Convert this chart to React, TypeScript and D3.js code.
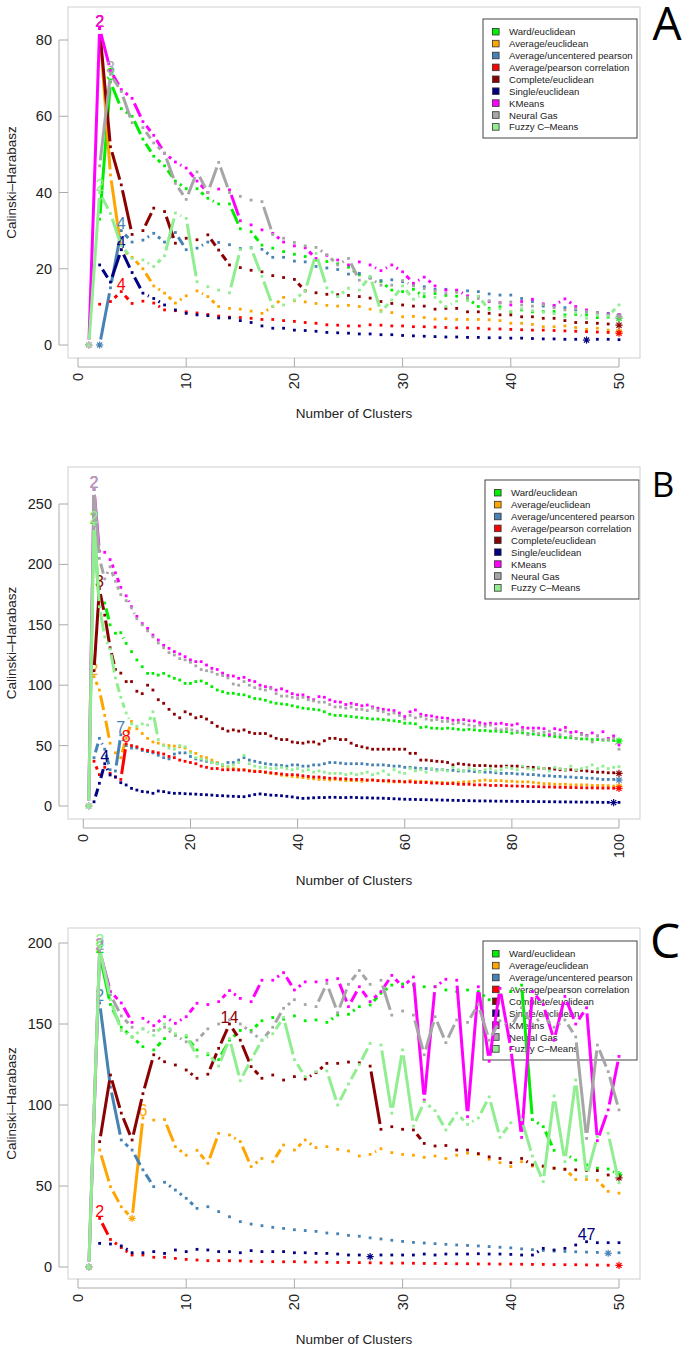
import * as d3 from "d3";

type Series = (number | null)[];

const methods = [
  "Ward/euclidean",
  "Average/euclidean",
  "Average/uncentered pearson",
  "Average/pearson correlation",
  "Complete/euclidean",
  "Single/euclidean",
  "KMeans",
  "Neural Gas",
  "Fuzzy C–Means",
];
const colors = ["#00EE00", "#FFA500", "#4682B4", "#FF0000", "#8B0000", "#000080", "#FF00FF", "#A6A6A6", "#90EE90"];

// ---- panel A (k = 1..50)
const clustersA = d3.range(1, 51);
const wardA: Series = [null, 33, 69, 62, 60, 54, 49.5, 47, 43, 41,
  41, 38.5, 37, 37, 30.5, 29.7, 26.2, 25.4, 24.5, 23.8,
  23.2, 22.3, 21.9, 21.3, 20.4, 18.4, 17.7, 16.6, 14.4, 14,
  14.6, 12.7, 13.5, 13, 12.8, 12.2, 10.1, 9.6, 10, 8.7,
  9.2, 8.7, 8.8, 8.8, 7.9, 8, 7.9, 7.2, 7.3, 7.0];
const avgEucA: Series = [null, 83, 44.6, 25, 23, 20, 15.5, 13.6, 11, 12.9,
  14.2, 12.7, 10.1, 9.6, 9.4, 8.9, 8.3, 10.1, 12.5, 11.6,
  11.3, 10.9, 10.4, 10.2, 10.4, 10.1, 9.4, 9.0, 8.5, 7.4,
  7.5, 7.2, 6.8, 6.9, 6.7, 6.7, 6.7, 6.6, 6.4, 5.7,
  5.7, 5.4, 4.8, 4.8, 5.0, 4.6, 4.1, 4.4, 3.9, 3.5];
const avgUncA: Series = [null, 0, 15, 30, 27, 27.5, 29.3, 27, 29.5, 25,
  25.4, 27, 26.9, 26.3, 25.3, 25.5, 25.1, 23, 23, 22,
  21.8, 20.6, 20.2, 19.8, 18.6, 18.8, 17.6, 16.9, 17.1, 16.6,
  15.7, 15.3, 14.6, 14.6, 14.3, 14.2, 14.0, 13.4, 13.1, 13.1,
  12.2, 11.4, 10.2, 10.2, 9.8, 9.2, 8.7, 8.5, 8.3, 8.0];
const avgPearA: Series = [null, 10.7, 11.4, 14, 10.9, 11.5, 11, 9.2, 9, 8.7,
  8.4, 8, 7.6, 7.3, 7.2, 7.0, 6.7, 6.7, 6.4, 6.2,
  5.9, 5.7, 5.3, 5.2, 5.0, 5.0, 5.3, 5.2, 5.0, 5.0,
  4.8, 4.8, 4.7, 4.6, 4.5, 4.5, 4.4, 4.2, 4.2, 4.1,
  4.0, 3.9, 3.9, 3.8, 3.7, 3.6, 3.5, 3.4, 3.3, 3.1];
const complA: Series = [null, 83, 52, 42, 29, 30, 35.9, 35, 26.7, 28,
  27.6, 28.9, 24.9, 21, 20.3, 19.6, 19.2, 18.2, 17.7, 17.2,
  14.2, 13.7, 13.3, 13.2, 13, 12.7, 12.3, 11.4, 10.9, 10.5,
  10.2, 10.2, 9.4, 9.6, 9.6, 8.7, 8.7, 8.3, 7.9, 7.9,
  7.4, 7.4, 7.0, 7.0, 6.4, 5.9, 5.9, 5.7, 5.5, 5.2];
const singleA: Series = [null, 21, 16.5, 25, 19, 13.6, 12.2, 10.5, 9.2, 8.3,
  7.9, 7.7, 7.1, 7.1, 6.4, 5.9, 5.0, 4.4, 4.4, 3.9,
  3.8, 3.6, 3.3, 3.2, 3.1, 2.9, 2.9, 2.7, 2.7, 2.5,
  2.4, 2.3, 2.2, 2.1, 2.1, 2.0, 2.0, 1.9, 1.9, 1.8,
  1.8, 1.7, 1.6, 1.6, 1.5, 1.5, 1.3, 1.5, 1.5, 1.4];
const kmeansA: Series = [0, 83, 72, 67, 64.7, 58.6, 55, 50.3, 48, 46.4,
  43, 40, 40.9, 40.7, 32.6, 31.5, 30.2, 29.3, 27, 26,
  25.5, 22.7, 23.5, 22.3, 21, 21.8, 21, 19.5, 21, 19.2,
  16.2, 17.8, 15.5, 14.4, 14.4, 12.9, 12.7, 11.4, 11.1, 10.5,
  11.4, 12, 10.8, 10.4, 12.1, 10.1, 9.2, 8.5, 8.1, 8.0];
const ngasA: Series = [null, 47, 71, 66.5, 58.3, 57, 53, 50.3, 42.4, 38.2,
  45.4, 40, 47.9, 40, 39, 38, 37.6, 29, 28, 26.9,
  26, 25.6, 23.7, 21, 22.7, 17, 17.5, 15.7, 15.7, 16.9,
  15.5, 14.8, 14.2, 13.5, 13.8, 12.5, 12.2, 11.6, 11, 11.3,
  10.5, 10.2, 10.6, 9.8, 9.2, 9.5, 8.8, 8.5, 7.9, 7.4];
const fuzzyA: Series = [0, 40, 34.5, 26, 22.7, 22.3, 20.6, 23.4, 34.6, 33.2,
  16.6, 15.3, 14.4, 13.7, 25, 25.4, 18, 10.2, 10.5, 11.8,
  14.2, 24, 15, 12.7, 14.9, 14.4, 18, 8.7, 11.8, 15.5,
  12, 13.5, 12.5, 10.1, 11.5, 11.6, 12.8, 9.2, 9.5, 8.8,
  9.5, 9.0, 8.6, 8.2, 7.4, 8.4, 7.0, 7.8, 7.6, 10.5];

// ---- panel B (k = 1..100)
const clustersB = d3.range(1, 101);
const wardB: Series = [null, 232, 165, 168, 150, 143, 143.5, 134.6, 127.8, 120.9,
  115.3, 109.8, 109.8, 108.4, 109.8, 107.6, 105.7, 104.3, 101.5, 101.5,
  103, 103.5, 101.5, 98.8, 96, 94.6, 93.3, 93.3, 92.4, 92,
  90.5, 89, 88.5, 87.5, 86, 85, 84.5, 84, 83, 82,
  81, 80.5, 80, 79.5, 78, 76, 75, 75, 74.5, 74,
  73.5, 73, 72.5, 72, 72, 71.5, 71, 70.5, 70, 68.5,
  68.5, 68, 65, 65.5, 64.5, 64.3, 64, 64.5, 64, 63.5,
  63, 63.5, 63, 62.5, 62.5, 62, 62, 61.5, 61.5, 60.2,
  61, 60.5, 60, 59.5, 59, 58.5, 58, 57.5, 57, 56.6,
  56.5, 56, 55.5, 55.5, 55, 55, 54.5, 54.5, 54.2, 53.8];
const avgEucB: Series = [null, 107, 96, 75, 52, 44, 40, 56, 70, 64,
  60, 56, 53, 52, 50.5, 50, 49.6, 49, 48, 45,
  43.6, 41, 40, 38, 36, 33, 32, 31, 30.4, 30,
  29.5, 29, 28.5, 28, 27, 26.5, 25.5, 25, 24.5, 24,
  23.5, 23, 22.5, 22, 22, 21.5, 22, 21.5, 21, 21,
  21, 20.5, 21, 21.5, 21, 20.5, 20, 20, 20, 20,
  21, 20.5, 20.5, 20, 20, 19.5, 19.5, 19, 19.5, 19.5,
  20, 20, 20.5, 21, 21.5, 21, 21, 21, 20.5, 20.5,
  20, 20, 20, 19.5, 19, 18.5, 18.5, 18, 18, 18,
  17.5, 17.5, 17.5, 17.5, 17, 17, 17, 16.8, 16.5, 16.2];
const avgUncB: Series = [null, 40, 56, 47, 30, 29, 59, 50, 48, 48,
  46, 45, 44, 42, 40, 39, 43, 44, 44, 41,
  39, 38, 37, 36, 35, 34, 36, 36, 38, 40,
  38, 37, 36, 35, 34.5, 34, 33.5, 33, 34, 34,
  33, 33, 34, 34, 35, 36, 35.9, 35.5, 35, 35,
  35, 35, 34.5, 34, 34, 34, 33.5, 33, 33, 32,
  32, 31.5, 31, 31, 30.5, 30, 30, 29.5, 29.5, 29,
  29, 29, 28.5, 28.5, 28, 28, 27.5, 27, 27, 27,
  26.5, 26.5, 26, 26, 25.5, 25, 25, 24.5, 24.5, 24,
  24, 23.5, 23.5, 23, 23, 22.5, 22, 22, 22, 21.5];
const avgPearB: Series = [null, 37, 26, 32, 27, 24, 22, 51.5, 50, 49,
  47, 46, 45, 44, 43, 41, 40, 38, 37, 36,
  35, 33, 32, 31, 31, 30, 30, 30, 29.8, 29.8,
  29, 28.5, 28.5, 28, 27.5, 27, 26.5, 26, 26, 25.7,
  25, 24.5, 24, 24, 23.5, 23, 23, 22.5, 22.5, 22,
  22, 22, 21.5, 21.5, 21, 21, 21, 20.5, 20.5, 20,
  20, 19.5, 19.5, 19.5, 19, 19, 18.5, 18.5, 18.5, 18,
  18, 18, 17.5, 17.5, 17.5, 17, 17, 17, 16.8, 16.6,
  16.5, 16.4, 16.2, 16, 16, 15.8, 15.8, 15.6, 15.5, 15.4,
  15.3, 15.2, 15.1, 15, 15, 14.9, 14.8, 14.8, 14.7, 14.6];
const complB: Series = [null, 112, 180, 158, 131, 113, 110, 103, 103, 95,
  93, 100, 96, 88, 85, 80, 76, 73, 78, 76,
  73, 74, 72, 69, 66, 64, 62, 63, 62, 63,
  61, 60, 60, 60, 58, 56, 55, 55, 53, 52.4,
  52, 53, 53, 51.3, 54, 56, 56, 55, 55, 52,
  50, 49, 48, 47, 47, 47, 47, 47, 47, 47,
  43.6, 43.6, 38, 38, 37.5, 37, 36.7, 36, 34, 35,
  34.5, 34, 33.5, 33.5, 33.5, 33, 33, 33, 33, 33,
  33, 32.5, 32, 32, 31.5, 31, 31, 30.5, 30, 29.8,
  30, 29.5, 29.5, 29, 28.4, 28, 28, 27.5, 27.5, 27];
const singleB: Series = [null, 3.5, 18.8, 35, 25.7, 24, 19.3, 17.4, 14.6, 13.2,
  12, 11.5, 10.5, 12.4, 11.9, 11, 10.5, 10.5, 10.2, 10,
  9.8, 9.5, 9.3, 9, 8.6, 8.5, 8.2, 8, 7.8, 7.7,
  8.5, 9.5, 10, 9.5, 9, 8.8, 8.5, 8, 7.5, 6.8,
  6.3, 6.5, 6.8, 7, 7, 7.2, 7.2, 7, 7, 7.2,
  7, 6.8, 6.8, 6.6, 6.5, 6.4, 6.2, 6, 5.8, 5.6,
  5.5, 5.4, 5.3, 5.2, 5.1, 5, 4.9, 4.8, 4.7, 4.6,
  4.5, 4.4, 4.3, 4.2, 4.2, 4.1, 4.0, 4.0, 3.9, 3.9,
  3.8, 3.8, 3.7, 3.7, 3.6, 3.6, 3.5, 3.5, 3.4, 3.4,
  3.3, 3.3, 3.2, 3.2, 3.1, 3.1, 3.0, 3.0, 2.8, 3.0];
const kmeansB: Series = [0, 262, 211, 210, 204, 193, 181, 174, 165, 157,
  151, 147, 141.5, 137.4, 133, 130.5, 127.8, 125.8, 123.6, 121,
  119.5, 119.5, 116.7, 114, 113, 110, 108, 107.6, 105.7, 106.5,
  104, 103, 100, 98.8, 98, 96, 97, 95, 93, 91.9,
  92, 90, 88, 90.5, 90, 87.8, 86.4, 86, 84, 85,
  84, 83, 83.6, 82, 81, 80, 79.5, 79, 77, 74,
  78, 79.5, 76, 75, 74.5, 73.5, 73, 72.6, 71, 71,
  71.5, 70.6, 70.4, 69, 68, 68.5, 68, 68.5, 67.5, 67,
  68, 65, 64.5, 64.5, 64.5, 64, 59, 64, 63, 65,
  61, 61.5, 60, 58.5, 60.5, 58, 61.5, 56, 58, 50.5];
const ngasB: Series = [0, 262, 205, 188, 198, 186, 175, 170, 164, 155,
  150, 145, 140, 135, 131, 127, 125, 122, 121, 119,
  116, 113, 112, 111, 109, 108, 106, 101, 100, 103,
  100, 98, 97, 96, 97, 93, 91, 91, 90, 89,
  90, 88, 87, 86, 86, 84, 82, 82, 81, 82,
  80, 80, 79, 81, 79, 78, 76, 77, 75, 72,
  75, 73, 74, 72, 71, 71.5, 70, 70, 68, 69,
  68, 67, 66, 67, 66, 67, 64, 63, 64, 63,
  62, 63, 59, 62, 60, 61, 62, 60, 59, 62,
  58, 56, 59, 58, 53, 58, 55, 55, 56, 47];
const fuzzyB: Series = [0, 233, 165, 140, 130, 106, 90, 77, 68, 66,
  68, 67, 78, 55, 50, 48, 47, 50, 49, 44,
  40, 39, 38, 36, 35, 34, 33, 34, 36, 42,
  35, 33, 32, 32, 31, 31, 32, 31, 30, 31,
  29, 30, 28, 29, 28, 27, 27, 27, 26, 27,
  26, 27, 28, 26, 27, 29, 26, 30, 28, 27,
  31, 29, 30, 28, 31, 29, 30, 29, 32, 30,
  29, 31, 30, 28, 30, 31, 29, 30, 32, 31,
  30, 33, 31, 30, 32, 31, 29, 32, 31, 30,
  33, 30, 31, 32, 34, 31, 33, 31, 32, 32.6];

// ---- panel C (k = 1..50)
const clustersC = d3.range(1, 51);
const wardC: Series = [null, 193, 162, 148, 142, 136, 134, 141, 143, 142,
  134, 131, 128, 140, 146, 146, 152, 154, 153, 155,
  152, 152.5, 151, 155.5, 156, 160.7, 161.7, 169, 174, 174.7,
  174, 173, 173, 171, 170, 171, 170, 165, 168, 170,
  174, 91, 86.6, 72, 70, 66, 63, 61, 60.5, 57];
const avgEucC: Series = [null, 72.2, 49.6, 37.2, 30, 92, 90.7, 91, 74.3, 69,
  72, 64, 82.5, 81.5, 77.4, 62, 67, 65, 75.3, 72.2,
  78.4, 73.7, 74.3, 72.6, 71.6, 68.5, 69.5, 73, 70.6, 69.5,
  69, 67.7, 68.5, 67, 69, 70.2, 69.5, 66.5, 64.4, 62,
  65, 62.3, 62, 61, 60.5, 54, 54, 53.5, 46.7, 45.6];
const avgUncC: Series = [null, 163, 111, 78.4, 72.2, 60, 49.6, 52.3, 47.5, 42.4,
  36.2, 37.2, 34.2, 31, 28, 26.5, 25.5, 24.5, 23.8, 23,
  22.5, 22, 21, 20.5, 19.5, 19, 18, 17.3, 16.5, 15.8,
  15.2, 14.8, 14.4, 14, 13.6, 13.3, 13, 12.6, 12.2, 11.8,
  11.2, 10.7, 10.2, 9.8, 9.6, 9.4, 9.2, 9.0, 8.5, 8.8];
const avgPearC: Series = [null, 30, 17, 12, 7.4, 7.4, 6, 6, 5.3, 4.7,
  4.3, 3.9, 3.9, 3.9, 3.8, 3.5, 3.3, 3.3, 3.2, 3.3,
  3.1, 3, 2.9, 2.8, 2.8, 2.7, 2.6, 2.5, 2.4, 2.4,
  2.3, 2.2, 2.2, 2.1, 2.0, 2.0, 1.9, 1.9, 1.8, 1.8,
  1.7, 1.6, 1.6, 1.5, 1.4, 1.4, 1.3, 1.2, 1.1, 1.0];
const complC: Series = [null, 77.4, 118.5, 95, 78.4, 107, 131, 126.7, 124.7, 121.6,
  116.5, 119, 135, 150, 140, 123.7, 116.5, 118.5, 115.4, 117.5,
  116, 120, 125.7, 125.7, 126.5, 126, 124, 85, 86.6, 85,
  84.6, 76.3, 74.7, 75, 72.2, 72.2, 70, 68, 67, 64.4,
  67, 63, 62.3, 61, 60.3, 60, 59.6, 59.5, 56.8, 55];
const singleC: Series = [null, 14.6, 14.2, 13, 8.8, 8.8, 9.5, 8.4, 10.5, 9.5,
  10.9, 10.5, 9.5, 9.5, 8.8, 10.1, 9.5, 9.5, 9.5, 8.8,
  8.8, 8.4, 8.4, 8, 7.4, 7.4, 6.4, 7.4, 7.4, 7.4,
  7.4, 8, 7.4, 8, 8, 8, 8.2, 8, 8, 7.8,
  7.4, 7.4, 11.5, 10.5, 11.5, 13.6, 15.6, 15, 15, 15];
const kmeansC: Series = [0, 195, 170, 163, 151, 153.5, 149, 154.5, 150.4, 154.5,
  162.8, 162, 163.8, 170.6, 165.8, 163.8, 177, 177, 181.7, 171,
  176, 176, 177, 178, 160.7, 173, 163.8, 170, 180, 173,
  179, 103, 173, 177.6, 177, 92.8, 173, 127, 172, 135,
  80, 170, 162, 140, 167, 150, 160, 78, 97, 130];
const ngasC: Series = [0, 195, 168, 155, 148, 147, 146, 148, 143, 139,
  140, 147, 150, 152.5, 150, 145, 140, 148, 159.7, 165,
  162, 160.7, 175, 157, 174.5, 183, 174.5, 177, 155.5, 158,
  155.5, 131, 154.5, 138.5, 152.5, 151, 162, 140, 152, 148,
  160, 150, 155, 148, 152.5, 142, 79.4, 137, 120.6, 97];
const fuzzyC: Series = [0, 197, 165, 146, 142, 147, 143, 150, 144, 143,
  130, 132, 124, 141, 115, 128, 140, 144, 154, 128,
  117.5, 120.6, 121, 100, 113, 125, 138, 137, 95, 134,
  87, 102, 96.5, 84.6, 95, 88, 92, 105, 80, 89,
  91, 68.5, 52.7, 105.6, 65, 115.4, 55.8, 80.5, 82.5, 52];

const panels = [
  {
    letter: "A", letterSize: 46, letterX: 667, letterY: 40,
    clusters: clustersA,
    series: [wardA, avgEucA, avgUncA, avgPearA, complA, singleA, kmeansA, ngasA, fuzzyA],
    xTicks: [0, 10, 20, 30, 40, 50], xRange: [78, 619],
    yTicks: [0, 20, 40, 60, 80], yRange: [345, 40],
    box: [68, 640, 7, 358], axisY: 367, xlabY: 413,
    legend: [483, 637, 19],
  },
  {
    letter: "B", letterSize: 35, letterX: 663, letterY: 497,
    clusters: clustersB,
    series: [wardB, avgEucB, avgUncB, avgPearB, complB, singleB, kmeansB, ngasB, fuzzyB],
    xTicks: [0, 20, 40, 60, 80, 100], xRange: [83.3, 619],
    yTicks: [0, 50, 100, 150, 200, 250], yRange: [806, 504],
    box: [68, 640, 467, 819], axisY: 828, xlabY: 880,
    legend: [485, 639, 480],
  },
  {
    letter: "C", letterSize: 48, letterX: 665, letterY: 958,
    clusters: clustersC,
    series: [wardC, avgEucC, avgUncC, avgPearC, complC, singleC, kmeansC, ngasC, fuzzyC],
    xTicks: [0, 10, 20, 30, 40, 50], xRange: [78, 619],
    yTicks: [0, 50, 100, 150, 200], yRange: [1267, 943],
    box: [68, 640, 928, 1279], axisY: 1288, xlabY: 1339,
    legend: [483, 637, 941],
  },
];

const FONT = "'Liberation Sans', Arial, Helvetica, sans-serif";
const GAP = 5.5;

function Star({ cx, cy, color }) {
  const r = 3.6;
  const d = r * 0.7071;
  return (
    <g stroke={color} strokeWidth={1.2}>
      <line x1={cx - r} x2={cx + r} y1={cy} y2={cy} />
      <line x1={cx} x2={cx} y1={cy - r} y2={cy + r} />
      <line x1={cx - d} x2={cx + d} y1={cy - d} y2={cy + d} />
      <line x1={cx - d} x2={cx + d} y1={cy + d} y2={cy - d} />
    </g>
  );
}

function SeriesMarks({ vals, clusters, x, y, color }) {
  const pts = vals.map((v, i) => (v == null ? null : [x(clusters[i]), y(v)]));
  const segs = [];
  for (let i = 0; i < pts.length - 1; i++) {
    const a = pts[i], b = pts[i + 1];
    if (!a || !b) continue;
    const dx = b[0] - a[0], dy = b[1] - a[1];
    const L = Math.hypot(dx, dy);
    if (L <= 2 * GAP + 1) continue;
    const ux = dx / L, uy = dy / L;
    segs.push(
      <line key={i} x1={a[0] + ux * GAP} y1={a[1] + uy * GAP} x2={b[0] - ux * GAP} y2={b[1] - uy * GAP} />
    );
  }
  const defined = vals.map((v, i) => [v, i]).filter((d) => d[0] != null);
  const maxI = defined.reduce((m, d) => (d[0] > m[0] ? d : m), defined[0])[1];
  const minI = defined.reduce((m, d) => (d[0] < m[0] ? d : m), defined[0])[1];
  return (
    <g>
      <g stroke={color} strokeWidth={3} strokeLinecap="butt">{segs}</g>
      {pts.map((p, i) => p && <rect key={i} x={p[0] - 1.4} y={p[1] - 1.4} width={2.8} height={2.8} fill={color} />)}
      <text x={pts[maxI][0]} y={pts[maxI][1] - 7} textAnchor="middle" dominantBaseline="central"
        fontSize={16} fontFamily={FONT} fill={color}>{clusters[maxI]}</text>
      <Star cx={pts[minI][0]} cy={pts[minI][1]} color={color} />
    </g>
  );
}

function Panel({ p }) {
  const x = d3.scaleLinear().domain([0, p.xTicks[p.xTicks.length - 1]]).range(p.xRange);
  const yTop = p.yTicks[p.yTicks.length - 1];
  const y = d3.scaleLinear().domain([0, yTop]).range(p.yRange);
  const [bx0, bx1, by0, by1] = p.box;
  const [lx0, lx1, ly0] = p.legend;
  const step = 11.9;
  const midY = (by0 + by1) / 2;
  const midX = (bx0 + bx1) / 2;
  const xLast = p.xTicks[p.xTicks.length - 1];
  return (
    <g fontFamily={FONT}>
      {/* legend (drawn underneath the data) */}
      <rect x={lx0} y={ly0} width={lx1 - lx0} height={119} fill="none" stroke="#444" strokeWidth={1} />
      {methods.map((m, i) => {
        const cy = ly0 + 12.7 + i * step;
        return (
          <g key={m}>
            <rect x={lx0 + 9.5} y={cy - 3.3} width={6.6} height={6.6} fill={colors[i]} stroke="#333" strokeWidth={0.8} />
            <text x={lx0 + 26} y={cy} dominantBaseline="central" fontSize={9.6} fill="#222">{m}</text>
          </g>
        );
      })}

      <rect x={bx0} y={by0} width={bx1 - bx0} height={by1 - by0} fill="none" stroke="#cfcfcf" />

      {/* y axis */}
      <line x1={59} x2={59} y1={y(0)} y2={y(yTop)} stroke="#aaa" />
      {p.yTicks.map((t) => (
        <g key={t}>
          <line x1={59} x2={bx0} y1={y(t)} y2={y(t)} stroke="#aaa" />
          <text x={52} y={y(t)} textAnchor="end" dominantBaseline="central" fontSize={14.5} fill="#222">{t}</text>
        </g>
      ))}
      <text transform={`translate(11,${midY}) rotate(-90)`} textAnchor="middle" dominantBaseline="central"
        fontSize={13.5} fill="#222">Calinski–Harabasz</text>

      {/* x axis */}
      <line x1={x(0)} x2={x(xLast)} y1={p.axisY} y2={p.axisY} stroke="#aaa" />
      {p.xTicks.map((t) => (
        <g key={t}>
          <line x1={x(t)} x2={x(t)} y1={by1} y2={p.axisY} stroke="#aaa" />
          <text transform={`translate(${x(t)},${p.axisY + 6}) rotate(-90)`} textAnchor="end" dominantBaseline="central"
            fontSize={14.5} fill="#222">{t}</text>
        </g>
      ))}
      <text x={midX} y={p.xlabY} textAnchor="middle" dominantBaseline="central" fontSize={13.5} fill="#222">
        Number of Clusters
      </text>

      {p.series.map((s, i) => (
        <SeriesMarks key={i} vals={s} clusters={p.clusters} x={x} y={y} color={colors[i]} />
      ))}

      <text x={p.letterX} y={p.letterY} textAnchor="middle" fontSize={p.letterSize}
        fontFamily="'Open Sans', 'DejaVu Sans', sans-serif" fill="#000">{p.letter}</text>
    </g>
  );
}

export default function App() {
  return (
    <svg width={685} height={1347} style={{ position: "absolute", left: 0, top: 0, background: "#fff" }}>
      <rect width={685} height={1347} fill="#fff" />
      {panels.map((p) => (
        <Panel key={p.letter} p={p} />
      ))}
    </svg>
  );
}
